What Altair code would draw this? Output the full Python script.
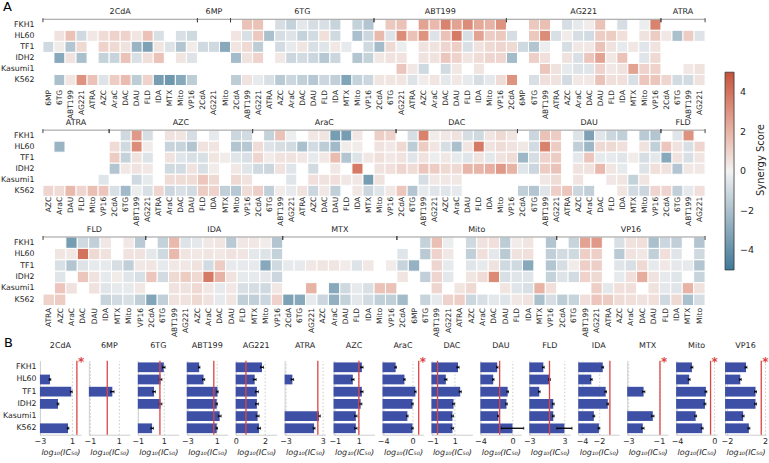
import altair as alt
import pandas as pd

N = None
FONT = "DejaVu Sans"
TEXT = "#262626"
CELL_LINES = ["FKH1", "HL60", "TF1", "IDH2", "Kasumi1", "K562"]

# ---------------------------------------------------------------- panel A data
# Each heatmap row is a sequence of drug groups; every group lists its partner
# drugs and, per cell line, the synergy score of each pair (None = not tested).
ROW1_GROUPS = ["2CdA", "6MP", "6TG", "ABT199", "AG221", "ATRA"]
ROW1_PARTNERS = [
    ["6MP", "6TG", "ABT199", "AG221", "ATRA", "AZC", "AraC", "DAC", "DAU", "FLD", "IDA", "MTX", "Mito", "VP16"],
    ["2CdA", "AG221", "Mito"],
    ["2CdA", "ABT199", "AG221", "ATRA", "AZC", "AraC", "DAC", "DAU", "FLD", "IDA", "MTX", "Mito", "VP16"],
    ["2CdA", "6TG", "AG221", "ATRA", "AZC", "AraC", "DAC", "DAU", "FLD", "IDA", "Mito", "VP16"],
    ["2CdA", "6MP", "6TG", "ABT199", "ATRA", "AZC", "AraC", "DAC", "DAU", "FLD", "IDA", "MTX", "Mito", "VP16"],
    ["2CdA", "6TG", "ABT199", "AG221"],
]
ROW1_SCORES = {
    "FKH1": [
        [N, N, N, N, N, N, N, N, N, N, N, N, N, N],
        [N, N, N],
        [N, 1.5, 1.5, N, -0.8, -1.3, -0.4, -0.8, -0.7, -1.2, N, -1.3, -1.8],
        [N, 1.3, 1.5, N, 2.5, 1.8, 3.5, 2.5, 3.2, 2.3, 2.0, 3.0],
        [N, N, 1.3, 1.6, N, -0.8, -0.3, 0.2, 1.5, N, -0.8, N, -0.2, 3.5],
        [N, N, N, N],
    ],
    "HL60": [
        [N, 0.5, 1.5, -1.0, 0.3, 0.7, 1.0, 1.0, 0.4, 1.5, -0.7, N, -0.7, -1.0],
        [N, N, N],
        [0.4, -0.7, 1.3, -2.0, -0.8, -0.6, -1.3, -0.9, 0.6, -1.0, N, -2.0, -1.1],
        [1.8, -0.6, 3.2, 1.5, 3.0, -0.6, 1.5, 3.8, -0.8, 2.5, 1.2, 1.3],
        [-0.8, N, 1.3, 3.2, -0.7, 0.2, -0.8, -0.9, 1.2, 1.2, 0.6, N, 0.5, 1.2],
        [0.3, -2.0, 1.2, -0.6],
    ],
    "TF1": [
        [-1.0, 0.2, -1.8, 0.8, N, 1.0, 0.8, 0.5, -2.5, -3.3, 0.4, -0.6, -1.8, 0.2],
        [-1.0, -1.0, -3.0],
        [0.4, 0.8, -1.5, N, -0.9, -0.3, 0.4, -0.7, -0.5, 0.3, -0.3, N, -1.0],
        [-2.2, 0.8, -0.2, N, 0.5, 0.5, 0.9, 1.1, -0.7, 0.5, 0.8, 0.9],
        [0.8, -1.0, -1.8, -0.2, N, -0.8, 0.3, 0.3, 1.5, 0.5, -0.3, 0.3, -0.5, 0.5],
        [N, N, N, N],
    ],
    "IDH2": [
        [N, -3.0, 0.5, -2.0, N, -1.3, -1.2, 1.5, -0.7, 0.6, 1.5, N, 0.4, -0.6],
        [N, N, N],
        [-2.2, 0.5, 1.0, N, 0.3, -1.1, -0.9, -1.1, -1.7, -1.1, N, -1.8, -1.3],
        [0.3, 0.5, 0.5, N, 0.5, 0.5, 1.4, 1.0, 0.4, 0.7, 0.9, 0.9],
        [-2.2, N, 1.1, 0.6, N, 0.5, -0.7, 1.4, 2.5, 0.3, 1.5, N, -0.5, 0.8],
        [N, N, N, N],
    ],
    "Kasumi1": [
        [N, N, N, N, N, N, N, N, N, N, N, N, N, N],
        [N, N, N],
        [N, N, N, N, N, N, N, N, N, N, N, N, N],
        [N, N, 1.4, 0.3, -1.0, N, -0.9, 0.3, N, 0.4, N, N],
        [N, N, N, 1.4, 0.5, -0.3, -0.6, -0.5, 1.0, 0.3, 0.5, 2.5, 1.0, 1.0],
        [N, N, 0.3, 0.5],
    ],
    "K562": [
        [N, -2.0, 0.4, 3.0, 1.5, -0.6, 1.2, 1.7, -1.5, 1.0, -3.5, -3.7, -3.0, -1.5],
        [N, N, N],
        [-1.5, 0.5, -0.3, -0.7, -1.6, -1.1, -1.4, -1.7, -1.1, -1.4, -3.2, -1.3, -1.1],
        [0.4, 0.4, 0.4, -0.6, 0.2, 0.4, -0.4, 0.3, -0.3, -0.8, -0.4, 0.7],
        [3.0, N, -0.7, 0.6, 0.5, -0.9, 0.3, 0.3, 1.5, 0.6, 0.6, -0.7, 1.4, 1.4],
        [0.9, -0.9, -0.9, 0.5],
    ],
}

ROW2_GROUPS = ["ATRA", "AZC", "AraC", "DAC", "DAU", "FLD"]
ROW2_PARTNERS = [
    ["AZC", "AraC", "DAU", "FLD", "Mito", "VP16"],
    ["2CdA", "6TG", "ABT199", "AG221", "ATRA", "AraC", "DAC", "DAU", "FLD", "IDA", "MTX", "Mito", "VP16"],
    ["2CdA", "6TG", "ABT199", "AG221", "ATRA", "AZC", "DAC", "DAU", "FLD", "IDA", "MTX", "Mito", "VP16"],
    ["2CdA", "6TG", "ABT199", "AG221", "AZC", "AraC", "DAU", "FLD", "IDA", "Mito", "VP16"],
    ["2CdA", "6TG", "ABT199", "AG221", "ATRA", "AZC", "AraC", "DAC", "FLD", "IDA", "MTX", "Mito", "VP16"],
    ["2CdA", "6TG", "ABT199", "AG221"],
]
ROW2_SCORES = {
    "FKH1": [
        [N, N, N, N, N, N],
        [N, -1.0, 2.8, -0.8, N, 0.5, 0.4, -0.8, N, -0.3, N, -1.1, -0.9],
        [N, -1.3, 1.5, -0.2, N, 0.3, 0.4, -3.5, -3.5, 0.3, N, 1.1, 1.0],
        [N, -0.8, 3.5, 0.2, 0.3, 0.5, -0.8, -1.0, 0.4, 0.8, 0.4],
        [N, -1.1, 1.5, 1.2, N, -0.6, -3.3, -0.5, -1.1, -1.4, N, -1.6, -1.8],
        [N, -0.5, 3.0, N],
    ],
    "HL60": [
        [N, -2.5, N, N, N, N],
        [0.7, -1.0, 3.2, 0.2, N, -1.2, -1.2, -1.8, 0.5, 0.4, N, -1.8, -1.7],
        [0.7, -0.6, -0.8, -0.9, -2.0, -0.9, -1.5, -2.3, 0.2, 0.2, N, 0.5, 0.3],
        [0.8, -1.5, 1.2, 0.4, -0.8, -2.0, 0.4, 3.8, 0.5, 0.7, 0.5],
        [0.3, -0.9, 3.5, 1.2, N, -1.4, -2.4, 0.8, 0.8, 0.6, N, 0.5, -1.4],
        [1.4, 0.5, -0.7, 0.9],
    ],
    "TF1": [
        [N, N, N, N, N, N],
        [1.2, -1.3, 0.5, -0.6, N, 0.5, -0.5, -0.7, -0.7, 0.4, 0.2, -0.5, -0.7],
        [0.9, 0.2, 0.5, 0.5, 0.3, -0.3, 0.3, 1.7, -1.8, -0.6, 0.3, 0.6, 0.3],
        [0.5, -0.5, 0.5, -0.2, 0.3, -0.3, -0.5, 0.5, -0.4, 0.5, 0.7],
        [-2.4, -0.8, 1.0, 1.2, N, -0.4, 1.4, -0.3, -0.3, -0.5, 0.2, -0.8, -0.4],
        [-3.0, 0.5, -0.7, 0.4],
    ],
    "IDH2": [
        [N, N, N, N, N, N],
        [-1.8, 0.3, 0.5, 0.3, N, -1.0, -0.9, 0.5, -0.7, 0.2, N, 0.3, -0.5],
        [-1.0, -1.1, 0.5, -0.5, N, -0.9, N, 0.3, N, 3.8, N, 0.5, 0.6],
        [0.9, 0.7, 1.4, 1.2, 0.8, 0.8, 1.9, 1.9, 2.1, 2.8, 2.0],
        [-0.5, -1.1, 1.2, 1.5, N, 0.5, 0.5, 1.8, 0.4, -0.3, N, -0.6, 0.6],
        [0.5, -1.8, 0.3, 0.3],
    ],
    "Kasumi1": [
        [N, N, N, N, N, -0.5],
        [N, N, -1.0, -0.3, N, 0.7, 0.7, 0.7, 1.4, 0.8, N, 0.8, 0.5],
        [N, N, N, -0.5, N, 0.6, 0.5, 0.6, 0.3, 0.3, -3.5, 0.5, N],
        [N, N, -0.8, 0.3, 0.3, 0.3, N, N, N, N, N],
        [N, N, 0.3, 0.7, N, 0.4, N, N, 0.3, 0.4, -1.3, 0.4, N],
        [N, N, N, N],
    ],
    "K562": [
        [0.9, 0.7, 1.8, 0.9, 1.6, 1.4],
        [-0.7, -2.3, -0.2, -0.7, 0.9, -1.1, -0.7, -0.9, 1.2, 1.0, -1.4, -1.7, 0.7],
        [1.1, -1.4, 0.2, -0.3, 0.5, -1.1, 0.3, -1.4, N, 0.3, -1.1, -0.5, 0.3],
        [1.4, -1.8, -0.3, -0.5, -0.5, -0.3, N, N, N, N, N],
        [-1.4, -1.8, -0.5, 1.1, 1.4, -1.1, -1.4, N, N, 0.4, -0.9, -1.1, 0.9],
        [0.9, -1.4, -0.3, 0.6],
    ],
}

ROW3_GROUPS = ["FLD", "IDA", "MTX", "Mito", "VP16"]
ROW3_PARTNERS = [
    ["ATRA", "AZC", "AraC", "DAC", "DAU", "IDA", "MTX", "Mito", "VP16"],
    ["2CdA", "6TG", "ABT199", "AG221", "AZC", "AraC", "DAC", "DAU", "FLD", "MTX", "Mito", "VP16"],
    ["2CdA", "6TG", "AG221", "AZC", "AraC", "DAU", "FLD", "IDA", "Mito", "VP16"],
    ["2CdA", "6MP", "6TG", "ABT199", "AG221", "ATRA", "AZC", "AraC", "DAC", "DAU", "FLD", "IDA", "MTX", "VP16"],
    ["2CdA", "6TG", "ABT199", "AG221", "ATRA", "AZC", "AraC", "DAC", "DAU", "FLD", "IDA", "MTX", "Mito"],
]
ROW3_SCORES = {
    "FKH1": [
        [N, N, -3.5, -1.0, -1.4, 0.3, N, 0.3, -1.6],
        [N, -1.3, 1.8, -0.6, -0.4, 0.3, 0.4, -1.6, 0.3, 0.3, 0.2, -1.8],
        [N, N, N, N, N, N, N, N, N, N],
        [N, N, -1.3, 1.6, -0.2, N, -1.0, 0.5, 0.6, -1.5, 0.2, 0.4, N, -1.8],
        [N, -1.2, 2.5, 2.8, N, -0.7, 0.5, 0.6, -2.0, -1.1, -1.4, N, -1.8],
    ],
    "HL60": [
        [N, 0.4, 0.3, 4.0, 0.8, 0.5, N, 0.5, 0.5],
        [-0.4, -1.0, 1.8, 0.4, 0.3, 0.4, 0.3, 0.5, 0.4, -0.4, -0.6, -1.3],
        [N, N, N, N, N, N, N, N, N, N],
        [-0.5, N, -1.6, 1.0, 0.3, N, -1.4, 0.6, -0.4, -1.6, 0.5, 0.6, N, -1.4],
        [-0.9, -1.0, 1.1, 1.1, N, -1.6, 0.5, 0.3, -1.4, 0.6, -0.5, N, -1.0],
    ],
    "TF1": [
        [N, -0.7, -1.8, -0.6, -0.3, -0.3, -0.8, -1.4, 0.3],
        [0.4, -0.3, 0.3, 0.3, 0.5, -0.9, 1.2, -0.3, -0.3, -0.3, -3.0, -1.0],
        [-0.3, -0.3, 0.3, 0.4, 0.4, 0.2, -0.6, 0.3, N, 0.2],
        [-1.2, -2.6, N, 0.9, -0.3, N, -0.5, -0.3, 0.5, -1.0, -1.0, -3.0, N, -1.8],
        [-0.8, 0.2, 1.1, 1.1, N, -0.5, -0.7, 0.8, -0.3, 0.3, -0.4, -0.3, -1.8],
    ],
    "IDH2": [
        [N, -0.5, N, 1.4, 0.5, -0.3, 0.2, -0.5, -0.7],
        [1.4, -0.9, 0.8, 1.2, 0.8, 3.8, 2.0, 0.5, -0.3, -0.3, -0.4, -1.1],
        [N, N, N, N, N, N, N, N, N, N],
        [0.4, N, -1.4, 0.9, -0.4, N, 0.4, 0.7, 3.3, -0.7, -0.5, -0.5, N, -1.3],
        [-0.6, -0.9, 1.0, 0.8, N, -0.3, 0.6, 2.2, 0.5, -0.3, -0.5, N, -1.2],
    ],
    "Kasumi1": [
        [N, 1.4, 0.5, N, 0.5, -0.5, -0.3, -0.3, 0.3],
        [N, N, 0.5, 0.5, 0.8, 0.3, -0.3, 0.3, -0.7, -0.8, -1.0, 0.3],
        [N, N, 2.0, N, -3.0, -1.0, -0.3, -0.7, 1.5, 1.5],
        [N, N, N, 0.9, N, 0.4, 0.8, N, N, 0.4, -0.5, -0.7, 2.0, 0.6],
        [N, N, N, 1.1, -0.4, 0.6, 0.6, N, 0.5, -0.4, -0.5, 2.0, 0.5],
    ],
    "K562": [
        [1.0, 1.2, N, N, N, -1.2, -0.9, -0.7, -1.4],
        [-3.2, -1.4, 0.5, 0.5, 0.8, 0.5, -0.3, 0.4, -1.4, -1.4, -1.1, 1.0],
        [-3.3, -3.0, -0.3, -1.1, -2.7, -1.3, -0.4, -0.9, -1.4, -1.4],
        [-2.2, N, -1.2, -0.3, 1.0, 1.1, -1.1, -0.7, -0.4, -0.5, 0.3, 0.5, -2.0, -0.8],
        [-1.5, -1.2, 0.6, 1.4, 1.2, 0.7, 0.6, 0.5, 0.6, -1.0, 0.8, -2.0, -0.8],
    ],
}

# ---------------------------------------------------------------- panel B data
IC50_DRUGS = ["2CdA", "6MP", "6TG", "ABT199", "AG221", "ATRA", "AZC", "AraC",
              "DAC", "DAU", "FLD", "IDA", "MTX", "Mito", "VP16"]
# log10(IC50) per cell line, in CELL_LINES order
LOG_IC50 = {
    "2CdA": [N, -1.75, 0.9, -0.75, N, 0.5],
    "6MP": [N, N, 0.55, N, N, N],
    "6TG": [1.0, 0.75, 0.25, 0.75, N, 0.1],
    "ABT199": [-1.4, -0.8, 1.1, 1.0, 1.4, 1.0],
    "AG221": [1.8, 1.3, 1.45, 1.45, 1.5, 1.6],
    "ATRA": [N, -1.9, N, N, 2.4, 1.6],
    "AZC": [1.25, 0.5, 1.25, 1.15, 0.75, 0.75],
    "AraC": [-2.3, -1.1, 0.4, 0.0, -0.7, 0.0],
    "DAC": [1.3, 0.2, 1.5, 0.9, 0.8, 0.8],
    "DAU": [-1.9, -2.4, -0.6, -0.75, -1.75, 0.0],
    "FLD": [-0.6, 0.45, -1.3, 1.1, 1.1, 3.0],
    "IDA": [-1.55, -2.9, -1.2, -0.95, -2.6, -2.0],
    "MTX": [N, N, -2.0, N, -1.4, -2.05],
    "Mito": [-2.4, -2.7, -0.9, -1.0, -2.0, -1.3],
    "VP16": [0.0, -0.6, 1.0, 1.0, -0.3, 0.3],
}
LOG_IC50_ERR = {
    "2CdA": [N, 0.1, 0.12, 0.1, N, 0.1],
    "6MP": [N, N, 0.12, N, N, N],
    "6TG": [0.1, 0.1, 0.1, 0.1, N, 0.1],
    "ABT199": [0.1, 0.15, 0.1, 0.1, 0.2, 0.1],
    "AG221": [0.1, 0.1, 0.1, 0.1, 0.1, 0.1],
    "ATRA": [N, 0.2, N, N, 0.2, 0.15],
    "AZC": [0.1, 0.1, 0.1, 0.1, 0.1, 0.1],
    "AraC": [0.1, 0.1, 0.1, 0.1, 0.1, 0.1],
    "DAC": [0.1, 0.1, 0.1, 0.1, 0.1, 0.1],
    "DAU": [0.1, 0.1, 0.1, 0.1, 0.1, 1.4],
    "FLD": [0.15, 0.15, 0.15, 0.15, 0.15, 1.3],
    "IDA": [0.1, 0.1, 0.1, 0.1, 0.1, 0.1],
    "MTX": [N, N, 0.08, N, 0.08, 0.08],
    "Mito": [0.1, 0.1, 0.1, 0.1, 0.1, 0.1],
    "VP16": [0.1, 0.1, 0.1, 0.1, 0.1, 0.1],
}
# clinically achievable concentration (log10), drawn as the red reference line
CLINICAL_LOG_CONC = {
    "2CdA": 1.6, "6MP": 0.2, "6TG": 0.7, "ABT199": 0.6, "AG221": 0.7,
    "ATRA": 2.2, "AZC": 1.0, "AraC": 0.85, "DAC": -0.55, "DAU": -1.6,
    "FLD": 0.45, "IDA": -0.7, "MTX": -0.93, "Mito": -0.4, "VP16": 1.6,
}
FLAGGED = ["2CdA", "AraC", "MTX", "Mito", "VP16"]
X_LIMITS = {
    "2CdA": (-3.0, 2.1), "6MP": (-1.07, 1.76), "6TG": (-1.0, 2.15),
    "ABT199": (-3.1, 2.5), "AG221": (0.0, 2.8), "ATRA": (-3.15, 3.45),
    "AZC": (-1.1, 2.3), "AraC": (-4.1, 1.5), "DAC": (-1.1, 2.6),
    "DAU": (-4.0, 1.1), "FLD": (-3.0, 4.0), "IDA": (-4.45, 0.4),
    "MTX": (-3.07, -0.4), "Mito": (-4.1, 0.3), "VP16": (-2.2, 2.1),
}
X_TICKS = {
    "2CdA": [-3, -1, 1], "6MP": [-1, 0, 1], "6TG": [-1, 1], "ABT199": [-3, -1, 1],
    "AG221": [0, 1, 2], "ATRA": [-3, -1, 1, 3], "AZC": [-1, 1], "AraC": [-4, -2, 0],
    "DAC": [-1, 1], "DAU": [-4, -2, 0], "FLD": [-3, -1, 1, 3], "IDA": [-4, -2],
    "MTX": [-3, -2, -1], "Mito": [-4, -2, 0], "VP16": [-2, 0, 2],
}

BAR_COLOR = "#3e50a6"
REF_RED = "#dc4545"
SYNERGY_SCALE = alt.Scale(domain=[-5, 0, 5],
                          range=["#3d7a98", "#f2f2f2", "#c5523c"],
                          interpolate="lab")

HEAT_WIDTH = 666
LEAD = 0.27  # blank margin left of the first column, in cells
PANEL_W = 41


def synergy_legend():
    return alt.Legend(
        orient="none", legendX=686, legendY=53, direction="vertical",
        gradientLength=198, gradientThickness=9,
        gradientStrokeColor="#333", gradientStrokeWidth=0.8,
        values=[-4, -2, 0, 2, 4], labelFontSize=9.5, labelColor=TEXT,
        labelOffset=6, title=None,
    )


def heatmap_row(groups, partners, scores, letter=None, bar_title=False, label_pad=2):
    cells, brackets, edges, names = [], [], [], []
    col = 0
    for gi, (grp, plist) in enumerate(zip(groups, partners)):
        start = col
        for k, partner in enumerate(plist):
            names.append(partner)
            for cl in CELL_LINES:
                v = scores[cl][gi][k]
                if v is not None:
                    cells.append({"col": col, "cell": cl, "score": v})
            col += 1
        brackets.append({"group": grp, "x0": start - 0.5, "x1": col - 0.5,
                         "mid": (start + col - 1) / 2})
        edges.append({"e": start - 0.5})
        edges.append({"e": col - 0.5})
    n = col
    cell_px = HEAT_WIDTH / (n + LEAD)
    height = 6 * cell_px

    xs = alt.Scale(domain=[-0.5 - LEAD, n - 0.5], nice=False, zero=False)
    label_expr = "split('" + ",".join(names) + "', ',')[datum.value]"
    # every layer carries the same axis definition so the merged axis keeps it
    xaxis = alt.Axis(values=list(range(n)), labelExpr=label_expr, labelAngle=-90,
                     labelFontSize=7.5, labelColor=TEXT, labelPadding=label_pad,
                     ticks=False, domain=False, grid=False, title=None,
                     labelOverlap=False, labelFlush=False)
    yaxis = alt.Axis(title=None, ticks=False, domain=False, labelFontSize=7.8,
                     labelColor=TEXT, labelPadding=6)

    rects = (
        alt.Chart(pd.DataFrame(cells))
        .transform_calculate(left="datum.col - 0.5", right="datum.col + 0.5")
        .mark_rect(stroke="white", strokeWidth=1)
        .encode(
            x=alt.X("left:Q", scale=xs, axis=xaxis),
            x2="right:Q",
            y=alt.Y("cell:N", sort=CELL_LINES,
                    scale=alt.Scale(domain=CELL_LINES, paddingInner=0, paddingOuter=0),
                    axis=yaxis),
            color=alt.Color("score:Q", scale=SYNERGY_SCALE, legend=synergy_legend()),
        )
    )
    bdf = pd.DataFrame(brackets)
    line = alt.Chart(bdf).mark_rule(color="#9a9a9a", strokeWidth=1).encode(
        x=alt.X("x0:Q", scale=xs, axis=xaxis), x2="x1:Q", y=alt.value(0))
    ticks = alt.Chart(pd.DataFrame(edges)).mark_rule(color="#444", strokeWidth=1).encode(
        x=alt.X("e:Q", scale=xs, axis=xaxis), y=alt.value(-1), y2=alt.value(3))
    heads = alt.Chart(bdf).mark_text(fontSize=8, color=TEXT, baseline="bottom").encode(
        x=alt.X("mid:Q", scale=xs, axis=xaxis), y=alt.value(-3), text="group:N")
    layers = [rects, line, ticks, heads]
    if letter:
        layers.append(
            alt.Chart(pd.DataFrame({"t": [letter]})).mark_text(
                fontSize=13, color="black", align="left", baseline="middle"
            ).encode(x=alt.value(-37), y=alt.value(-12.5), text="t:N")
        )
    if bar_title:
        # colour bar caption, set beside the gradient legend
        layers.append(
            alt.Chart(pd.DataFrame({"t": ["Synergy Score"]})).mark_text(
                fontSize=10, color=TEXT, angle=270, align="center", baseline="middle"
            ).encode(x=alt.value(722), y=alt.value(30), text="t:N")
        )
    return alt.layer(*layers).properties(width=HEAT_WIDTH, height=height)


def ic50_panel(idx, drug):
    lo, hi = X_LIMITS[drug]
    rows = []
    for cl, v, e in zip(CELL_LINES, LOG_IC50[drug], LOG_IC50_ERR[drug]):
        if v is not None:
            rows.append({"cell": cl, "v": v, "lo_e": v - e, "hi_e": v + e, "base": lo})
    df = pd.DataFrame(rows)
    xs = alt.Scale(domain=[lo, hi], nice=False, zero=False)
    ys = alt.Scale(domain=CELL_LINES, paddingInner=0.2, paddingOuter=0.13)
    first = idx == 0
    yaxis = alt.Axis(title=None, labels=first, ticks=False, domain=True,
                     domainColor="#cfcfcf", labelFontSize=7.8, labelColor=TEXT,
                     labelPadding=4)
    xaxis = alt.Axis(values=X_TICKS[drug], format="d", title="log\u2081\u2080(IC\u2085\u2080)",
                     titleFontStyle="italic", titleFontWeight="normal", titleFontSize=8,
                     titleColor=TEXT, titlePadding=3, labelFontSize=8, labelColor=TEXT,
                     labelPadding=3, grid=True, gridDash=[1.5, 2], gridColor="#bdbdbd",
                     gridWidth=0.8, ticks=False, domainColor="#cfcfcf",
                     labelFlush=False, labelOverlap=False)
    base = alt.Chart(df)
    bars = base.mark_bar(color=BAR_COLOR).encode(
        x=alt.X("v:Q", scale=xs, axis=xaxis), x2="base:Q",
        y=alt.Y("cell:N", scale=ys, sort=CELL_LINES, axis=yaxis))
    err = base.mark_rule(color="black", strokeWidth=1.3).encode(
        x="lo_e:Q", x2="hi_e:Q", y="cell:N")
    cap_lo = base.mark_tick(color="black", size=3, thickness=1).encode(x="lo_e:Q", y="cell:N")
    cap_hi = base.mark_tick(color="black", size=3, thickness=1).encode(x="hi_e:Q", y="cell:N")
    ref = pd.DataFrame({"c": [CLINICAL_LOG_CONC[drug]], "name": [drug]})
    red = alt.Chart(ref).mark_rule(color=REF_RED, strokeWidth=1.3).encode(x="c:Q")
    name = alt.Chart(ref).mark_text(fontSize=8, color=TEXT, baseline="middle").encode(
        x=alt.value(PANEL_W / 2), y=alt.value(-15), text="name:N")
    layers = [bars, err, cap_lo, cap_hi, red, name]
    if drug in FLAGGED:
        layers.append(alt.Chart(ref).mark_text(
            text="*", color=REF_RED, fontSize=12, fontWeight="bold",
            align="left", baseline="middle", dx=1).encode(x="c:Q", y=alt.value(1)))
    if first:
        layers.append(alt.Chart(pd.DataFrame({"t": ["B"]})).mark_text(
            fontSize=13, color="black", align="left", baseline="middle"
        ).encode(x=alt.value(-36), y=alt.value(-17.5), text="t:N"))
    return alt.layer(*layers).properties(width=PANEL_W, height=74)


row1 = heatmap_row(ROW1_GROUPS, ROW1_PARTNERS, ROW1_SCORES, letter="A", label_pad=4)
row2 = heatmap_row(ROW2_GROUPS, ROW2_PARTNERS, ROW2_SCORES, bar_title=True, label_pad=0)
row3 = heatmap_row(ROW3_GROUPS, ROW3_PARTNERS, ROW3_SCORES)
panel_b = alt.hconcat(*[ic50_panel(i, d) for i, d in enumerate(IC50_DRUGS)],
                      spacing=8, bounds="flush")

chart = (
    alt.vconcat(row1, row2, row3, panel_b, spacing=0)
    .properties(padding={"left": 0, "top": 0, "right": 0, "bottom": 0})
    .configure(font=FONT)
    .configure_view(stroke=None)
    .configure_axis(labelOverlap=False)
)

chart.save("out.html", embed_options={"renderer": "svg", "actions": False})
